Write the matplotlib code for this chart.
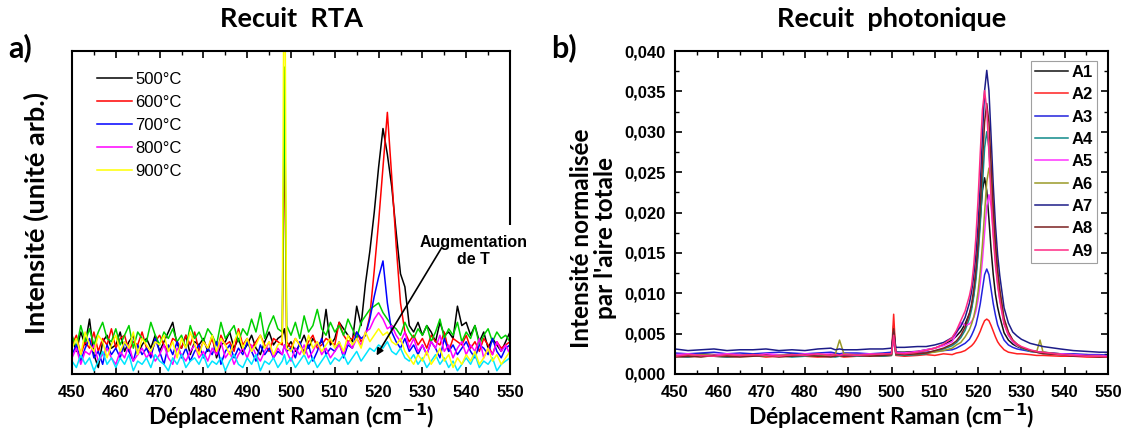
import matplotlib
matplotlib.use('Agg')
import matplotlib.pyplot as plt
from matplotlib.ticker import MultipleLocator, FuncFormatter

plt.rcParams['font.family'] = ['Liberation Sans', 'DejaVu Sans']
plt.rcParams['mathtext.fontset'] = 'dejavusans'

# ---- a) Recuit RTA (intensité en unité arbitraire) ----
rta_x = list(range(450, 498)) + [498, 498.5, 499] + list(range(500, 551))

rta_500 = [11, 7, 13, 9, 17, 6, 2, 10, 12, 8,
           9, 13, 7, 10, 12, 6, 9, 11, 8, 12,
           7, 10, 13, 16, 9, 8, 12, 6, 10, 9,
           11, 7, 12, 5, 9, 10, 13, 8, 11, 7,
           9, 12, 8, 6, 10, 13, 9, 11,
           12, 14, 8,
           10, 7, 9, 12, 8, 11, 9, 10, 20, 9,
           11, 16, 14, 12, 10, 21, 15, 28, 38, 50,
           64, 76, 68, 58, 44, 31, 27, 15, 13, 16,
           12, 15, 13, 10, 16, 12, 13, 11, 21, 15,
           16, 12, 15, 10, 13, 8, 11, 9, 7, 10,
           13]
rta_600 = [9, 12, 6, 10, 8, 13, 7, 11, 9, 14,
           8, 11, 12, 7, 10, 9, 13, 8, 6, 10,
           12, 9, 7, 11, 10, 8, 12, 9, 13, 7,
           10, 8, 11, 6, 12, 9, 10, 7, 14, 9,
           11, 8, 10, 12, 9, 7, 11, 10,
           9, 80, 10,
           8, 11, 9, 7, 10, 12, 8, 9, 11, 10,
           9, 16, 12, 10, 11, 13, 10, 12, 18, 32,
           47, 64, 81, 61, 40, 22, 13, 10, 12, 9,
           11, 8, 12, 10, 9, 13, 7, 11, 10, 9,
           12, 8, 10, 7, 11, 9, 6, 10, 8, 9,
           10]
rta_700 = [6, 9, 4, 8, 11, 5, 7, 3, 9, 6,
           8, 5, 10, 7, 4, 9, 6, 8, 5, 11,
           7, 3, 9, 6, 10, 5, 8, 4, 7, 9,
           5, 8, 6, 10, 3, 7, 9, 5, 8, 6,
           10, 7, 4, 9, 6, 8, 5, 7,
           6, 9, 7,
           8, 5, 10, 6, 9, 4, 7, 11, 6, 8,
           7, 10, 5, 9, 8, 13, 11, 12, 17, 24,
           30, 35, 22, 13, 10, 8, 11, 7, 9, 6,
           9, 6, 10, 8, 5, 11, 7, 9, 6, 8,
           10, 7, 5, 9, 8, 6, 11, 7, 5, 8,
           9]
rta_green = [12, 8, 15, 10, 14, 9, 13, 16, 11, 10,
             14, 9, 12, 15, 8, 13, 11, 10, 16, 12,
             9, 13, 11, 14, 10, 12, 8, 15, 11, 13,
             10, 14, 12, 9, 16, 11, 13, 15, 10, 14,
             12, 17, 13, 19, 11, 15, 18, 14,
             13, 95, 15,
             12, 16, 11, 18, 13, 15, 20, 14, 12, 16,
             13, 15, 12, 17, 14, 11, 16, 18, 20, 21,
             22, 19, 17, 15, 14, 12, 16, 13, 11, 14,
             12, 15, 10, 13, 17, 11, 14, 12, 16, 10,
             13, 11, 15, 9, 12, 14, 10, 13, 11, 12,
             10]
rta_800 = [5, 8, 3, 7, 6, 9, 4, 6, 8, 5,
           3, 7, 5, 9, 4, 6, 8, 5, 7, 4,
           6, 9, 5, 3, 8, 6, 4, 7, 9, 5,
           7, 4, 8, 6, 10, 5, 7, 3, 6, 8,
           5, 9, 6, 4, 7, 10, 5, 8,
           6, 9, 7,
           4, 8, 6, 9, 5, 7, 10, 6, 8, 5,
           7, 9, 6, 10, 8, 11, 9, 13, 14, 17,
           19, 17, 14, 15, 12, 10, 13, 8, 11, 7,
           9, 6, 10, 8, 12, 7, 9, 5, 8, 10,
           6, 9, 7, 11, 5, 8, 6, 10, 7, 9,
           6]
rta_cyan = [4, 2, 6, 3, 5, 1, 4, 7, 3, 5,
            2, 5, 3, 6, 1, 4, 3, 5, 2, 6,
            4, 3, 1, 5, 3, 6, 2, 4, 5, 3,
            6, 2, 4, 3, 5, 1, 4, 6, 3, 2,
            5, 3, 6, 1, 4, 3, 5, 2,
            4, 6, 3,
            5, 2, 4, 6, 3, 5, 2, 4, 6, 3,
            5, 4, 6, 3, 5, 7, 4, 6, 8, 7,
            9, 8, 10, 7, 6, 8, 5, 4, 6, 3,
            5, 2, 4, 6, 3, 5, 2, 4, 1, 3,
            5, 3, 6, 2, 4, 3, 5, 1, 3, 4,
            5]
rta_900 = [8, 11, 6, 13, 9, 7, 12, 10, 5, 9,
           12, 7, 10, 8, 13, 6, 11, 9, 7, 10,
           9, 12, 7, 10, 5, 11, 8, 13, 9, 6,
           10, 8, 12, 7, 11, 9, 6, 10, 13, 8,
           11, 7, 9, 12, 8, 10, 6, 9,
           10, 160, 8,
           7, 11, 9, 6, 12, 8, 10, 7, 9, 11,
           8, 10, 7, 12, 9, 11, 8, 13, 10, 12,
           14, 12, 13, 10, 9, 11, 7, 5, 3, 6,
           4, 7, 3, 5, 8, 4, 6, 2, 5, 3,
           6, 4, 7, 3, 5, 8, 4, 6, 3, 5,
           7]

# ---- b) Recuit photonique (intensité normalisée) ----
ph_x = [450, 453, 456, 459, 462, 465, 468, 471, 474, 477, 480, 483, 486, 487, 488, 489, 492, 495, 498,
        500, 500.5, 501,
        503, 506, 508, 510, 512, 514,
        515, 516, 517, 518,
        518.5, 519, 519.5, 520, 520.5, 521, 521.5, 522, 522.5, 523, 523.5, 524, 524.5, 525,
        526, 527, 528, 529, 530,
        532, 533.5, 534.3, 535, 539, 542, 545, 548, 550]

A1 = [0.0024, 0.0023, 0.0025, 0.0024, 0.0023, 0.0024, 0.0025, 0.0024, 0.0023, 0.0025, 0.0024, 0.0023, 0.0024, 0.0025, 0.0024, 0.0025, 0.0024, 0.0025, 0.0025,
      0.0026, 0.0060, 0.0027,
      0.0027, 0.0028, 0.0030, 0.0032, 0.0036, 0.0042,
      0.0047, 0.0053, 0.0062, 0.0075,
      0.0083, 0.0099, 0.0123, 0.0154, 0.0192, 0.0227, 0.0243, 0.0227, 0.0192, 0.0154, 0.0123, 0.0099, 0.0083, 0.0071,
      0.0051, 0.0042, 0.0037, 0.0034, 0.0032,
      0.0029, 0.0028, 0.0027, 0.0027, 0.0025, 0.0024, 0.0024, 0.0023, 0.0023]
A2 = [0.0022, 0.0021, 0.0023, 0.0022, 0.0021, 0.0022, 0.0023, 0.0021, 0.0022, 0.0023, 0.0022, 0.0021, 0.0022, 0.0023, 0.0022, 0.0021, 0.0022, 0.0023, 0.0022,
      0.0023, 0.0074, 0.0023,
      0.0022, 0.0023, 0.0024, 0.0023, 0.0025, 0.0024,
      0.0026, 0.0027, 0.0029, 0.0033,
      0.0035, 0.0038, 0.0042, 0.0047, 0.0053, 0.0060, 0.0066, 0.0068, 0.0066, 0.0060, 0.0053, 0.0046, 0.0040, 0.0036,
      0.0030, 0.0027, 0.0026, 0.0025, 0.0025,
      0.0024, 0.0023, 0.0023, 0.0023, 0.0022, 0.0022, 0.0021, 0.0021, 0.0021]
A3 = [0.0026, 0.0025, 0.0026, 0.0027, 0.0025, 0.0026, 0.0025, 0.0026, 0.0027, 0.0026, 0.0025, 0.0026, 0.0027, 0.0026, 0.0025, 0.0026, 0.0026, 0.0025, 0.0026,
      0.0027, 0.0042, 0.0027,
      0.0026, 0.0027, 0.0027, 0.0028, 0.0029, 0.0030,
      0.0032, 0.0035, 0.0038, 0.0043,
      0.0048, 0.0054, 0.0061, 0.0073, 0.0087, 0.0105, 0.0123, 0.0130, 0.0123, 0.0105, 0.0087, 0.0073, 0.0061, 0.0054,
      0.0042, 0.0036, 0.0033, 0.0031, 0.0030,
      0.0028, 0.0027, 0.0027, 0.0026, 0.0025, 0.0025, 0.0024, 0.0024, 0.0023]
A4 = [0.0022, 0.0021, 0.0023, 0.0022, 0.0021, 0.0022, 0.0023, 0.0022, 0.0023, 0.0021, 0.0022, 0.0023, 0.0022, 0.0021, 0.0022, 0.0023, 0.0022, 0.0023, 0.0022,
      0.0023, 0.0053, 0.0024,
      0.0023, 0.0024, 0.0025, 0.0028, 0.0031, 0.0035,
      0.0039, 0.0045, 0.0054, 0.0069,
      0.0080, 0.0096, 0.0117, 0.0147, 0.0186, 0.0234, 0.0280, 0.0300, 0.0280, 0.0234, 0.0186, 0.0147, 0.0117, 0.0096,
      0.0064, 0.0048, 0.0040, 0.0035, 0.0032,
      0.0028, 0.0027, 0.0026, 0.0026, 0.0024, 0.0023, 0.0022, 0.0022, 0.0021]
A5 = [0.0024, 0.0025, 0.0023, 0.0024, 0.0025, 0.0024, 0.0023, 0.0025, 0.0024, 0.0023, 0.0025, 0.0024, 0.0025, 0.0024, 0.0023, 0.0025, 0.0024, 0.0025, 0.0024,
      0.0025, 0.0045, 0.0026,
      0.0026, 0.0028, 0.0030, 0.0032, 0.0035, 0.0040,
      0.0050, 0.0064, 0.0060, 0.0062,
      0.0065, 0.0070, 0.0078, 0.0092, 0.0113, 0.0141, 0.0175, 0.0208, 0.0222, 0.0208, 0.0175, 0.0141, 0.0113, 0.0092,
      0.0062, 0.0048, 0.0040, 0.0035, 0.0033,
      0.0029, 0.0027, 0.0027, 0.0026, 0.0025, 0.0024, 0.0023, 0.0023, 0.0022]
A6 = [0.0023, 0.0022, 0.0024, 0.0023, 0.0022, 0.0023, 0.0024, 0.0022, 0.0023, 0.0024, 0.0023, 0.0022, 0.0023, 0.0024, 0.0042, 0.0025, 0.0023, 0.0024, 0.0023,
      0.0024, 0.0050, 0.0025,
      0.0024, 0.0025, 0.0026, 0.0027, 0.0029, 0.0032,
      0.0036, 0.0039, 0.0046, 0.0055,
      0.0062, 0.0071, 0.0084, 0.0102, 0.0127, 0.0160, 0.0200, 0.0238, 0.0255, 0.0238, 0.0200, 0.0160, 0.0127, 0.0102,
      0.0067, 0.0051, 0.0042, 0.0036, 0.0033,
      0.0029, 0.0027, 0.0042, 0.0027, 0.0024, 0.0023, 0.0022, 0.0022, 0.0021]
A7 = [0.0031, 0.0029, 0.0030, 0.0031, 0.0029, 0.0030, 0.0030, 0.0031, 0.0029, 0.0030, 0.0029, 0.0031, 0.0032, 0.0030, 0.0031, 0.0030, 0.0030, 0.0031, 0.0031,
      0.0032, 0.0052, 0.0033,
      0.0033, 0.0034, 0.0034, 0.0036, 0.0039, 0.0045,
      0.0052, 0.0059, 0.0070, 0.0088,
      0.0102, 0.0122, 0.0148, 0.0185, 0.0234, 0.0294, 0.0351, 0.0376, 0.0351, 0.0294, 0.0234, 0.0185, 0.0148, 0.0122,
      0.0082, 0.0063, 0.0052, 0.0047, 0.0043,
      0.0038, 0.0036, 0.0035, 0.0034, 0.0031, 0.0029, 0.0028, 0.0027, 0.0027]
A8 = [0.0021, 0.0022, 0.0021, 0.0023, 0.0022, 0.0021, 0.0022, 0.0023, 0.0021, 0.0022, 0.0023, 0.0022, 0.0021, 0.0022, 0.0023, 0.0022, 0.0023, 0.0022, 0.0023,
      0.0024, 0.0056, 0.0025,
      0.0024, 0.0025, 0.0026, 0.0029, 0.0032, 0.0037,
      0.0041, 0.0048, 0.0058, 0.0075,
      0.0087, 0.0105, 0.0129, 0.0162, 0.0207, 0.0261, 0.0312, 0.0335, 0.0312, 0.0261, 0.0207, 0.0162, 0.0129, 0.0105,
      0.0069, 0.0052, 0.0042, 0.0037, 0.0033,
      0.0029, 0.0027, 0.0026, 0.0025, 0.0024, 0.0022, 0.0022, 0.0021, 0.0021]
A9 = [0.0022, 0.0024, 0.0023, 0.0022, 0.0024, 0.0023, 0.0024, 0.0023, 0.0022, 0.0024, 0.0023, 0.0025, 0.0023, 0.0024, 0.0023, 0.0024, 0.0023, 0.0024, 0.0025,
      0.0025, 0.0048, 0.0026,
      0.0025, 0.0027, 0.0029, 0.0032, 0.0037, 0.0045,
      0.0054, 0.0066, 0.0078, 0.0097,
      0.0110, 0.0135, 0.0170, 0.0217, 0.0274, 0.0327, 0.0351, 0.0327, 0.0274, 0.0217, 0.0170, 0.0135, 0.0110, 0.0092,
      0.0062, 0.0049, 0.0041, 0.0037, 0.0034,
      0.0030, 0.0028, 0.0027, 0.0027, 0.0024, 0.0023, 0.0022, 0.0022, 0.0021]

ph_labels = ['A1', 'A2', 'A3', 'A4', 'A5', 'A6', 'A7', 'A8', 'A9']
ph_colors = ['#111111', '#ff2020', '#2222dd', '#108a8a', '#ff33ff', '#9a9a28', '#1c1c88', '#7a2020', '#ff2a85']

titre = dict(family='Lato', weight='bold')

fig = plt.figure(figsize=(11.32, 4.43), dpi=100)
ax1 = fig.add_axes([72 / 1132, 1 - 374 / 443, 438 / 1132, 323 / 443])
ax2 = fig.add_axes([675 / 1132, 1 - 374 / 443, 433 / 1132, 323 / 443])

# panneau a
courbes = [(rta_500, 'black', '500°C'), (rta_600, '#ff0000', '600°C'),
           (rta_green, '#00d000', None), (rta_700, '#0000ff', '700°C'),
           (rta_800, '#ff00ff', '800°C'), (rta_cyan, '#00e5ff', None),
           (rta_900, '#ffff00', '900°C')]
handles = {}
for y, c, lab in courbes:
    l, = ax1.plot(rta_x, y, color=c, lw=1.1)
    if lab:
        handles[lab] = l
noms = ['500°C', '600°C', '700°C', '800°C', '900°C']
ax1.legend([handles[n] for n in noms], noms, loc='upper left', bbox_to_anchor=(0.022, 0.982),
           frameon=False, fontsize=12, handlelength=2.1, handletextpad=0.2, labelspacing=0.48)
ax1.set_xlim(450, 550)
ax1.set_ylim(0, 100)
ax1.set_yticks([])
ax1.xaxis.set_major_locator(MultipleLocator(10))
ax1.xaxis.set_minor_locator(MultipleLocator(5))
ax1.tick_params(axis='x', which='both', direction='in', top=True, labelsize=12, pad=8)
ax1.tick_params(axis='x', which='major', length=5, width=1.2)
ax1.tick_params(axis='x', which='minor', length=3, width=1.0)
ax1.annotate('', xy=(519.2, 5), xytext=(534.8, 40),
             arrowprops=dict(arrowstyle='-|>', color='black', lw=1.2, mutation_scale=10), zorder=11)
ax1.text(541.6, 38, 'Augmentation\nde T', ha='center', va='center', fontsize=11.5, fontweight='bold',
         bbox=dict(facecolor='white', edgecolor='none', pad=7), zorder=10, clip_on=False)
ax1.set_title('Recuit  RTA', fontsize=19.5, pad=17, **titre)
ax1.set_xlabel(r'Déplacement Raman (cm$^{\mathbf{-1}}$)', fontsize=16.5, labelpad=1, **titre)
ax1.set_ylabel('Intensité (unité arb.)', fontsize=19.5, **titre)
ax1.yaxis.set_label_coords(-0.052, 0.5)

# panneau b
for y, c, lab in zip([A1, A2, A3, A4, A5, A6, A7, A8, A9], ph_colors, ph_labels):
    ax2.plot(ph_x, y, color=c, lw=1.1, label=lab)
leg = ax2.legend(loc='upper right', bbox_to_anchor=(0.975, 0.97), borderaxespad=0, fancybox=False,
                 edgecolor='#888888', handlelength=2.0, handletextpad=0.2,
                 labelspacing=0.44, borderpad=0.25, prop=dict(weight='bold', size=12))
leg.get_frame().set_linewidth(0.8)
ax2.set_xlim(450, 550)
ax2.set_ylim(0, 0.04)
ax2.xaxis.set_major_locator(MultipleLocator(10))
ax2.xaxis.set_minor_locator(MultipleLocator(5))
ax2.yaxis.set_major_locator(MultipleLocator(0.005))
ax2.yaxis.set_minor_locator(MultipleLocator(0.0025))
ax2.yaxis.set_major_formatter(FuncFormatter(lambda v, p: f'{v:.3f}'.replace('.', ',')))
ax2.tick_params(which='both', direction='in', top=True, right=True, labelsize=12)
ax2.tick_params(axis='x', pad=8)
ax2.tick_params(axis='y', pad=7)
ax2.tick_params(which='major', length=5, width=1.2)
ax2.tick_params(which='minor', length=3, width=1.0)
ax2.set_title('Recuit  photonique', fontsize=19.5, pad=17, **titre)
ax2.set_xlabel(r'Déplacement Raman (cm$^{\mathbf{-1}}$)', fontsize=16.5, labelpad=1, **titre)
ax2.set_ylabel("Intensité normalisée\npar l'aire totale", fontsize=17.5, linespacing=1.05, **titre)
ax2.yaxis.set_label_coords(-0.135, 0.42)

for ax in (ax1, ax2):
    for s in ax.spines.values():
        s.set_linewidth(1.5)
    for t in ax.get_xticklabels() + ax.get_yticklabels():
        t.set_fontweight('bold')

fig.text(8 / 1132, 1 - 48 / 443, 'a)', fontsize=22, va='center', **titre)
fig.text(551 / 1132, 1 - 48 / 443, 'b)', fontsize=22, va='center', **titre)

fig.savefig('out.png', dpi=100)
